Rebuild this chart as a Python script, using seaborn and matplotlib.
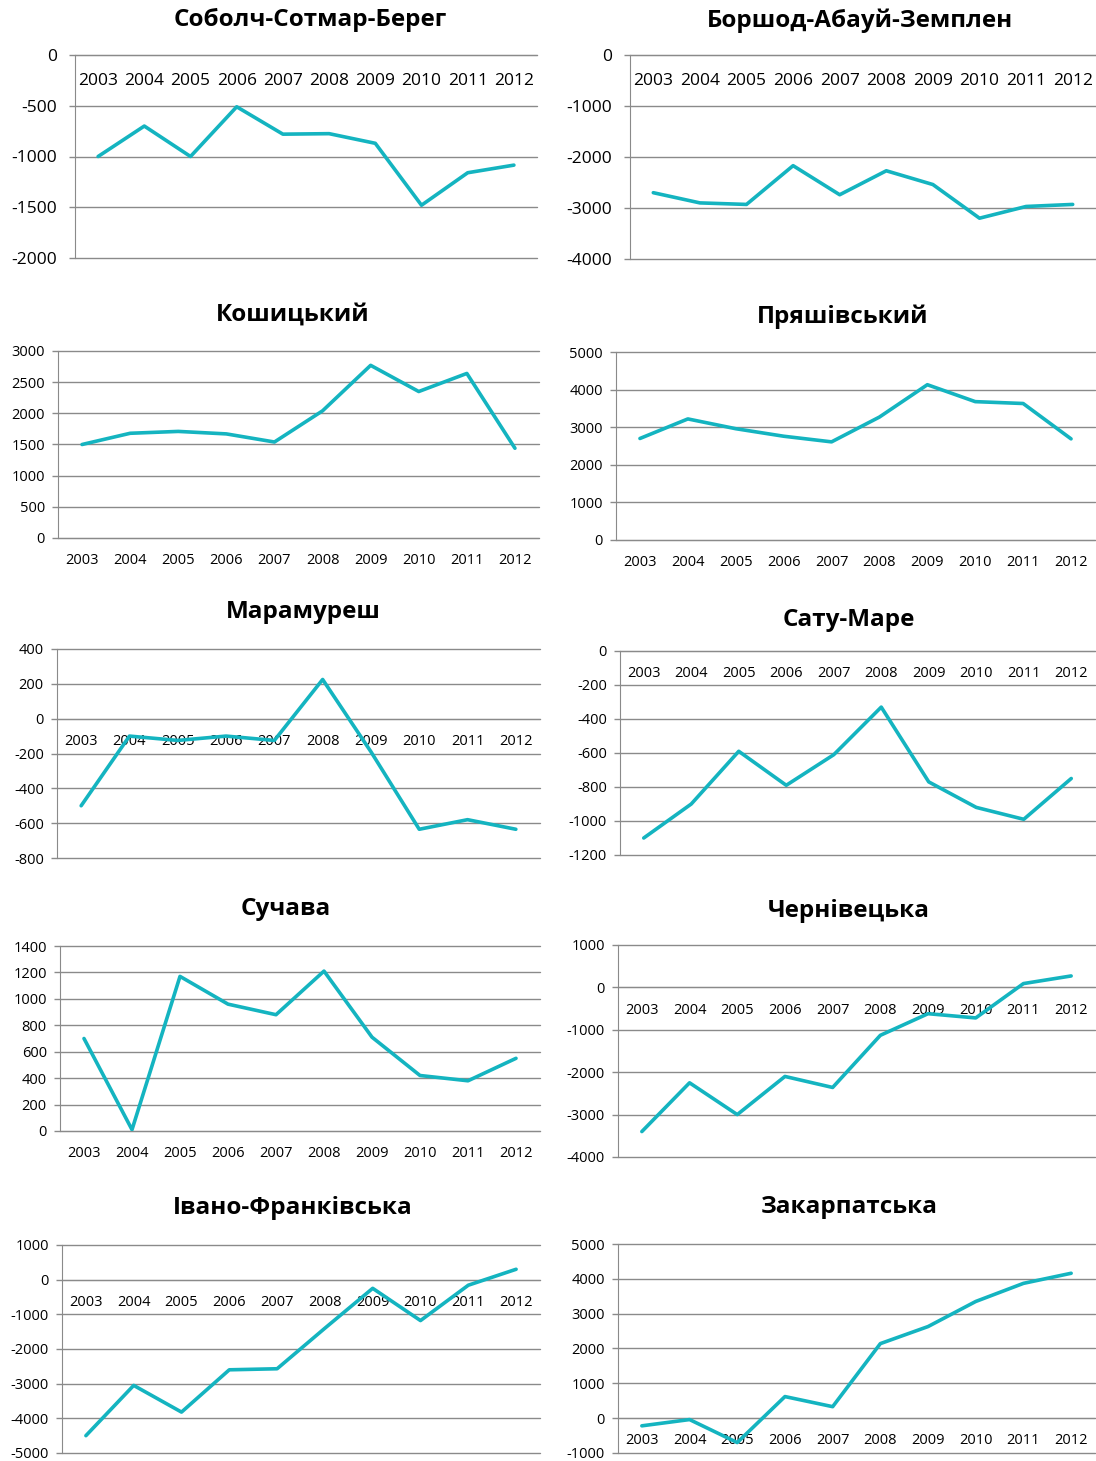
import numpy as np
import matplotlib
matplotlib.use("Agg")
import matplotlib.pyplot as plt
import seaborn as sns

years = ["2003", "2004", "2005", "2006", "2007", "2008", "2009", "2010", "2011", "2012"]

titles = ["Соболч-Сотмар-Берег", "Боршод-Абауй-Земплен", "Кошицький", "Пряшівський",
          "Марамуреш", "Сату-Маре", "Сучава", "Чернівецька",
          "Івано-Франківська", "Закарпатська"]

szabolcs = [-1000, -700, -1000, -510, -780, -775, -870, -1480, -1160, -1085]
borsod = [-2700, -2900, -2930, -2170, -2740, -2270, -2540, -3200, -2970, -2930]
kosice = [1500, 1680, 1710, 1670, 1540, 2040, 2770, 2350, 2640, 1440]
presov = [2700, 3220, 2960, 2760, 2610, 3270, 4130, 3680, 3630, 2690]
maramures = [-500, -100, -125, -100, -125, 225, -190, -635, -580, -635]
satu_mare = [-1100, -900, -590, -790, -610, -330, -770, -920, -990, -750]
suceava = [700, 10, 1170, 960, 880, 1210, 710, 420, 380, 550]
chernivtsi = [-3400, -2250, -3000, -2100, -2360, -1130, -620, -720, 90, 270]
ivano = [-4500, -3050, -3820, -2600, -2570, -1400, -250, -1180, -160, 300]
zakarpattia = [-220, -40, -700, 620, 330, 2140, 2630, 3350, 3870, 4160]

series = [szabolcs, borsod, kosice, presov, maramures,
          satu_mare, suceava, chernivtsi, ivano, zakarpattia]

y_ranges = [(-2000, 0, 500), (-4000, 0, 1000), (0, 3000, 500), (0, 5000, 1000),
            (-800, 400, 200), (-1200, 0, 200), (0, 1400, 200), (-4000, 1000, 1000),
            (-5000, 1000, 1000), (-1000, 5000, 1000)]

# pixel boxes of the plot areas: left, right, top, bottom
boxes = [(75, 537, 55, 258), (630, 1096, 55, 259),
         (58, 539, 351, 538), (616, 1095, 352, 540),
         (57, 540, 649, 858), (620, 1095, 651, 855),
         (60, 540, 946, 1131), (618, 1095, 945, 1157),
         (62, 540, 1245, 1453), (618, 1095, 1244, 1453)]
title_pos = [(310, 20), (860, 21), (293, 315), (843, 317), (303, 612),
             (849, 620), (286, 909), (849, 911), (293, 1208), (849, 1207)]

W, H = 1096, 1461
sns.set_style("white")
plt.rcParams["font.family"] = ["Open Sans", "DejaVu Sans"]
plt.rcParams["axes.unicode_minus"] = False
plt.rcParams["text.color"] = "black"
plt.rcParams["xtick.color"] = "black"
plt.rcParams["ytick.color"] = "black"

fig = plt.figure(figsize=(W / 100, H / 100), dpi=100)
line_color = "#14b4c0"
grid_color = "#8a8a8a"

for i in range(10):
    l, r, t, b = boxes[i]
    ax = fig.add_axes([l / W, 1 - b / H, (r - l) / W, (b - t) / H])
    big = i < 2
    fs = 12.5 if big else 10.5
    sns.lineplot(x=np.arange(10), y=series[i], ax=ax, color=line_color,
                 linewidth=2.6, zorder=3)
    lo, hi, step = y_ranges[i]
    ax.set_ylim(lo, hi)
    ax.set_yticks(np.arange(lo, hi + step / 2, step))
    ax.set_xlim(-0.5, 9.5)
    ax.set_xticks(np.arange(-0.5, 10, 1))
    ax.set_xticklabels([])
    ax.set_xticks(np.arange(10), minor=True)
    ax.set_xticklabels(years, minor=True)
    ax.tick_params(axis="x", which="major", direction="out", length=4,
                   color=grid_color, width=1)
    ax.tick_params(axis="x", which="minor", length=0,
                   pad=13 if big else 11, labelsize=fs)
    ax.tick_params(axis="y", direction="out", length=4, color=grid_color,
                   width=1, pad=9 if big else 5.5, labelsize=fs, left=True)
    ax.yaxis.grid(True, color=grid_color, linewidth=1)
    for gl in ax.get_ygridlines():
        gl.set_clip_on(False)
    ax.set_axisbelow(True)
    for s in ["top", "right"]:
        ax.spines[s].set_visible(False)
    ax.spines["left"].set_color(grid_color)
    ax.spines["bottom"].set_color(grid_color)
    ax.spines["bottom"].set_position(("data", 0))
    ax.set_xlabel("")
    ax.set_ylabel("")
    tx, ty = title_pos[i]
    fig.text(tx / W, 1 - ty / H, titles[i], ha="center", va="center",
             fontsize=17.5, fontweight="bold", color="black")

fig.savefig("out.png", dpi=100)
